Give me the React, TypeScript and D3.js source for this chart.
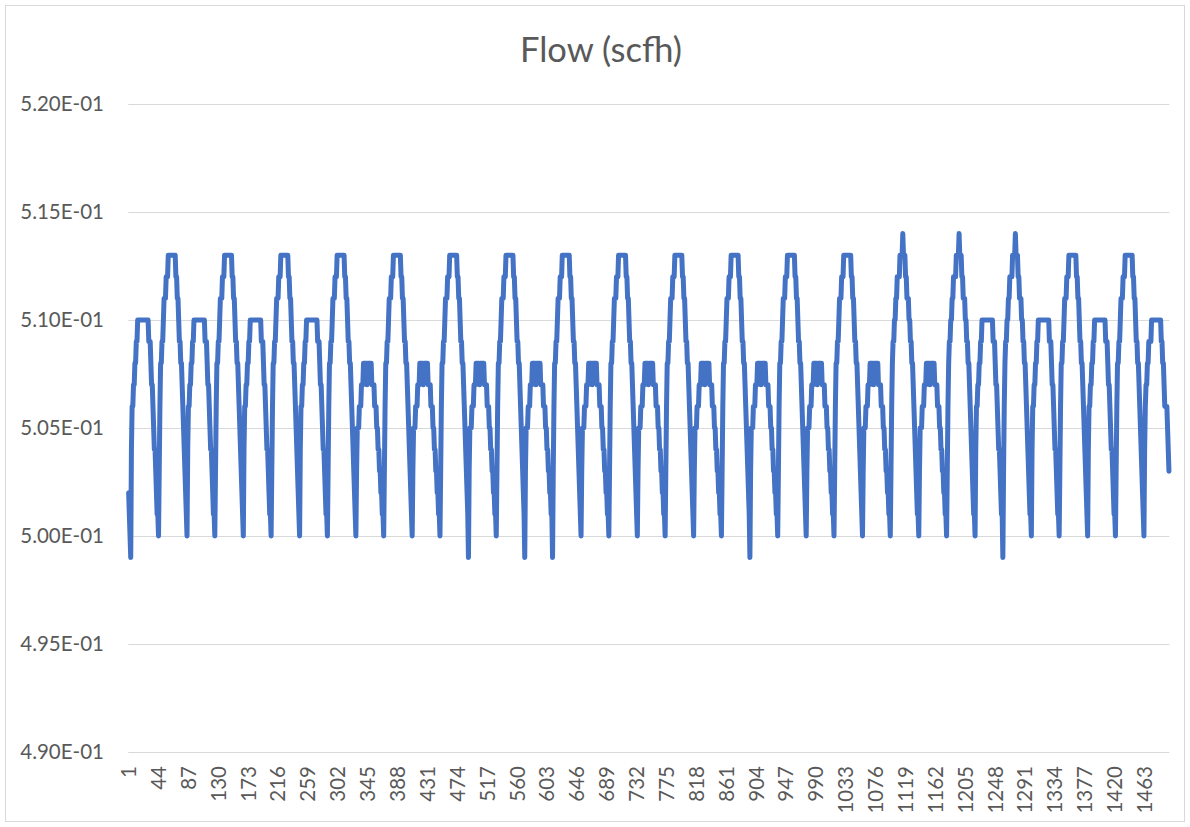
import React from "react";
import * as d3 from "d3";

// ---- data (flow values in thousandths above 0.500 scfh) ----
const startValues = [2, 1, 0];
// cycle shapes following each trough
const smallHigh = [4,6,6,7,7,8,8,9,9,10,10,10,10,10,10,10,10,10,10,10,10,10,10,10,10,9,9,9,8,7,7,6,5,4,4,3,2,1,1];
const smallLow = [3,5,5,5,6,6,6,7,7,7,8,8,8,8,8,7,8,8,8,8,8,8,7,7,7,7,6,6,6,5,5,4,4,3,3,2,2,1,1];
const bigPeak = [3,6,8,8,9,9,10,11,11,11,12,12,12,13,13,13,13,13,13,13,13,13,13,13,12,12,11,11,10,9,9,8,8,7,6,5,4,3,2,1];
const bigSpike = [3,6,8,9,9,10,10,11,11,12,12,12,12,13,13,13,13,14,13,13,13,12,12,11,11,11,10,10,9,9,8,8,7,6,5,4,3,2,1,1];
const endTail = [4,6,7,7,8,8,9,9,9,9,10,10,10,10,10,10,10,10,10,10,10,10,10,10,9,9,8,8,7,6,6,6,6,5,4,3];
// trough level at start of each cycle segment
const troughLevels = [-1,0,0,0,0,0,0,0,0,0,0,0,-1,0,-1,-1,0,0,0,0,0,0,-1,0,0,0,0,0,0,0,0,-1,0,0,0,0,0];
// which shape follows each trough
const cycleSequence = ["A","T","A","T","A","T","A","T","B","T","B","T","B","T","B","T","B","T","B","T","B","T","B","T","B","T","B","P","B","P","A","P","A","T","A","T","E"];

const yTickValues = [0.49, 0.495, 0.5, 0.505, 0.51, 0.515, 0.52];
const yTickLabels = ["4.90E-01", "4.95E-01", "5.00E-01", "5.05E-01", "5.10E-01", "5.15E-01", "5.20E-01"];
const chartTitle = "Flow (scfh)";

const shapes: Record<string, number[]> = { A: smallHigh, B: smallLow, T: bigPeak, P: bigSpike, E: endTail };

const thousandths: number[] = [...startValues];
cycleSequence.forEach((c, k) => {
  thousandths.push(troughLevels[k]);
  thousandths.push(...shapes[c]);
});
const flow = thousandths.map((v) => 0.5 + v / 1000);
const N = flow.length;

const W = 1190;
const H = 827;
const left = 128.3;
const right = 1169.3;
const top = 104;
const bottom = 752;
const FONT = "Lato, 'Liberation Sans', sans-serif";
const TXT = "#595959";

export default function App() {
  const x = d3.scaleLinear().domain([0, N]).range([left, right]);
  const y = d3.scaleLinear().domain([0.49, 0.52]).range([bottom, top]);
  const line = d3
    .line<number>()
    .x((_, i) => x(i + 0.5))
    .y((d) => y(d));
  const xTicks: number[] = [];
  for (let i = 0; i < N; i += 43) xTicks.push(i);

  return (
    <svg
      width={W}
      height={H}
      style={{ position: "absolute", left: 0, top: 0, background: "#fff" }}
    >
      <rect x={5.5} y={5.5} width={1179} height={816} fill="#fff" stroke="#d9d9d9" strokeWidth={1} />
      <text x={601} y={62} textAnchor="middle" fontFamily={FONT} fontSize={34.5} fill={TXT}>
        {chartTitle}
      </text>
      {yTickValues.map((v, i) => (
        <g key={v}>
          <line x1={left} x2={right} y1={Math.round(y(v)) + 0.5} y2={Math.round(y(v)) + 0.5} stroke="#d9d9d9" strokeWidth={1} />
          <text x={104} y={y(v)} dy="0.36em" textAnchor="end" fontFamily={FONT} fontSize={20.5} fill={TXT}>
            {yTickLabels[i]}
          </text>
        </g>
      ))}
      {xTicks.map((i) => (
        <text
          key={i}
          transform={`translate(${x(i + 0.5)},766) rotate(-90)`}
          dy="0.36em"
          textAnchor="end"
          fontFamily={FONT}
          fontSize={20.5}
          fill={TXT}
        >
          {String(i + 1)}
        </text>
      ))}
      <path d={line(flow) || ""} fill="none" stroke="#4472C4" strokeWidth={5} strokeLinejoin="round" strokeLinecap="round" />
    </svg>
  );
}
